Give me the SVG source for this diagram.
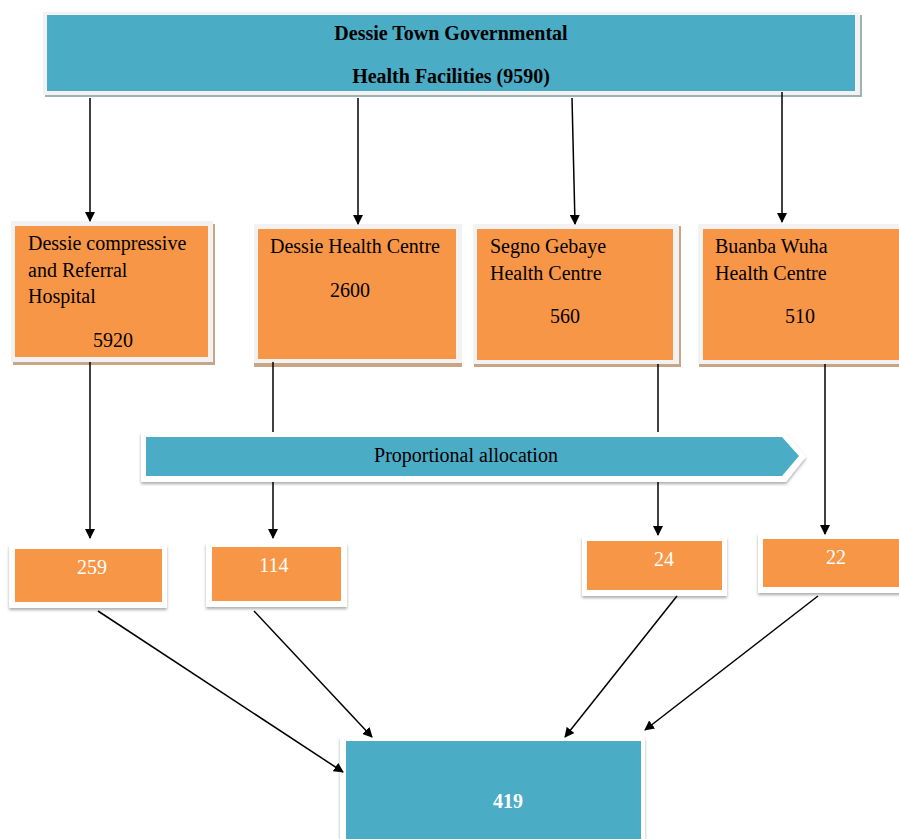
<svg xmlns="http://www.w3.org/2000/svg" width="899" height="839" viewBox="0 0 899 839">
<defs>
<style>
.frame{fill:#f2f2f2}
.wframe{fill:#ffffff;filter:url(#ds)}
.teal{fill:#4bacc6}
.orange{fill:#f79646}
.tan{fill:#c9a587}
.t{font-family:"Liberation Serif","Times New Roman",serif;font-size:20px;fill:#000}
.tb{font-family:"Liberation Serif","Times New Roman",serif;font-size:20px;font-weight:bold;fill:#000}
.tw{font-family:"Liberation Serif","Times New Roman",serif;font-size:20px;fill:#fff}
.twb{font-family:"Liberation Serif","Times New Roman",serif;font-size:20px;font-weight:bold;fill:#fff}
.c{stroke:#000;stroke-width:1.5;fill:none}
</style>
<filter id="ds" x="-10%" y="-10%" width="120%" height="130%">
<feDropShadow dx="0" dy="2" stdDeviation="1.5" flood-color="#888" flood-opacity="0.7"/>
</filter>
<marker id="ah" markerWidth="10" markerHeight="10" refX="9" refY="5" orient="auto" markerUnits="userSpaceOnUse">
<path d="M0,0 L10,5 L0,10 z" fill="#000"/>
</marker>
</defs>
<rect width="899" height="839" fill="#fff"/>

<g id="top">
<rect x="45" y="15" width="817" height="82" fill="#9fb1b4"/>
<rect class="frame" x="43" y="12" width="817" height="83"/>
<rect class="teal" x="47" y="15" width="808" height="76"/>
<text class="tb" x="451" y="40" text-anchor="middle">Dessie Town Governmental</text>
<text class="tb" x="451" y="83" text-anchor="middle">Health Facilities (9590)</text>
</g>

<g id="hospital">
<rect class="tan" x="13" y="224" width="202" height="141"/>
<rect class="frame" x="11" y="221" width="202" height="141"/>
<rect class="orange" x="15" y="226" width="193" height="131"/>
<text class="t" x="28" y="250">Dessie compressive</text>
<text class="t" x="28" y="277">and Referral</text>
<text class="t" x="28" y="303">Hospital</text>
<text class="t" x="113" y="347" text-anchor="middle">5920</text>
</g>

<g id="dessie-hc">
<rect class="tan" x="254" y="226" width="208" height="141"/>
<rect class="frame" x="254" y="224" width="208" height="139"/>
<rect class="orange" x="258" y="229" width="198" height="130"/>
<text class="t" x="270" y="253">Dessie Health Centre</text>
<text class="t" x="350" y="297" text-anchor="middle">2600</text>
</g>

<g id="segno-hc">
<rect class="tan" x="474" y="226" width="207" height="141"/>
<rect class="frame" x="473" y="224" width="206" height="140"/>
<rect class="orange" x="477" y="229" width="196" height="131"/>
<text class="t" x="490" y="253">Segno Gebaye</text>
<text class="t" x="490" y="280">Health Centre</text>
<text class="t" x="565" y="323" text-anchor="middle">560</text>
</g>

<g id="buanba-hc">
<rect class="tan" x="699" y="226" width="210" height="141"/>
<rect class="frame" x="698" y="224" width="210" height="140"/>
<rect class="orange" x="703" y="229" width="196" height="131"/>
<text class="t" x="715" y="253">Buanba Wuha</text>
<text class="t" x="715" y="280">Health Centre</text>
<text class="t" x="800" y="323" text-anchor="middle">510</text>
</g>

<g id="banner">
<polygon points="141,433 786,433 806,457 786,482 141,482" fill="#fff" filter="url(#ds)"/>
<polygon class="teal" points="146,437 782,437 799,456 782,476 146,476"/>
<text class="t" x="466" y="462" text-anchor="middle">Proportional allocation</text>
</g>

<g id="s259">
<rect class="wframe" x="9" y="545" width="158" height="63"/>
<rect class="orange" x="15" y="549" width="147" height="53"/>
<text class="tw" x="92" y="574" text-anchor="middle">259</text>
</g>

<g id="s114">
<rect class="wframe" x="206" y="543" width="141" height="64"/>
<rect class="orange" x="212" y="547" width="129" height="54"/>
<text class="tw" x="274" y="572" text-anchor="middle">114</text>
</g>

<g id="s24">
<rect class="wframe" x="582" y="537" width="145" height="59"/>
<rect class="orange" x="587" y="541" width="135" height="49"/>
<text class="tw" x="664" y="566" text-anchor="middle">24</text>
</g>

<g id="s22">
<rect class="wframe" x="758" y="534" width="150" height="59"/>
<rect class="orange" x="763" y="539" width="140" height="48"/>
<text class="tw" x="836" y="564" text-anchor="middle">22</text>
</g>

<g id="total">
<rect class="wframe" x="340" y="737" width="305" height="110"/>
<rect class="teal" x="346" y="741" width="295" height="105"/>
<text class="twb" x="508" y="808" text-anchor="middle">419</text>
</g>

<g id="connectors">
<line class="c" x1="90" y1="98" x2="90" y2="221" marker-end="url(#ah)"/>
<line class="c" x1="358" y1="98" x2="358" y2="224" marker-end="url(#ah)"/>
<line class="c" x1="572" y1="98" x2="575" y2="224" marker-end="url(#ah)"/>
<line class="c" x1="782" y1="92" x2="782" y2="222" marker-end="url(#ah)"/>
<line class="c" x1="90" y1="362" x2="90" y2="538" marker-end="url(#ah)"/>
<line class="c" x1="273" y1="362" x2="273" y2="432"/>
<line class="c" x1="273" y1="482" x2="273" y2="538" marker-end="url(#ah)"/>
<line class="c" x1="658" y1="364" x2="658" y2="432"/>
<line class="c" x1="658" y1="482" x2="658" y2="535" marker-end="url(#ah)"/>
<line class="c" x1="825" y1="364" x2="825" y2="534" marker-end="url(#ah)"/>
<line class="c" x1="98" y1="611" x2="343" y2="772" marker-end="url(#ah)"/>
<line class="c" x1="254" y1="611" x2="372" y2="737" marker-end="url(#ah)"/>
<line class="c" x1="677" y1="596" x2="565" y2="737" marker-end="url(#ah)"/>
<line class="c" x1="818" y1="596" x2="645" y2="730" marker-end="url(#ah)"/>
</g>
</svg>
